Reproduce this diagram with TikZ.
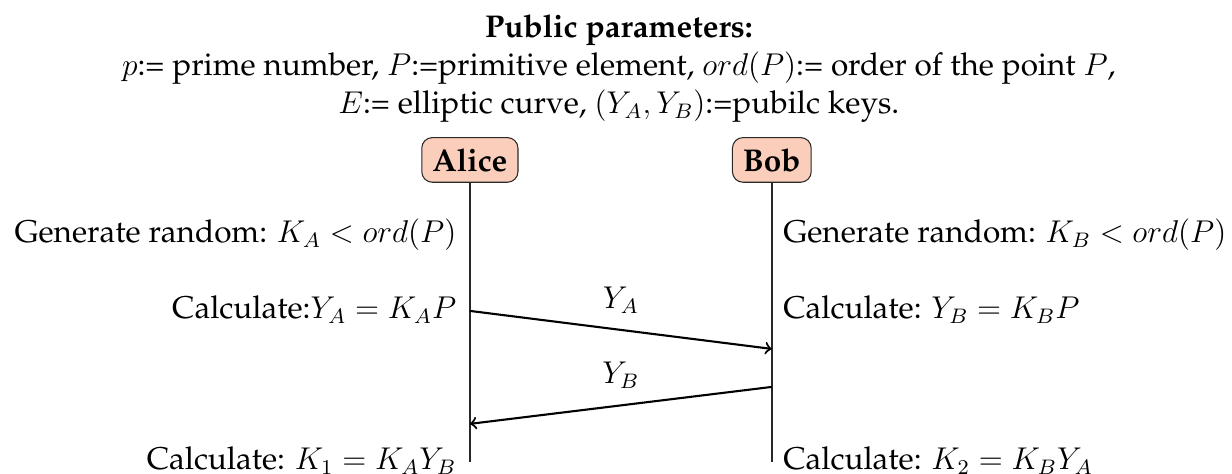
\documentclass[tikz,border=0pt,12pt]{standalone}
\usepackage[T1]{fontenc}
\renewcommand{\rmdefault}{ppl}
\usepackage{tikz}
\usetikzlibrary{positioning,calc}
\definecolor{actclr}{RGB}{251,206,188}
\definecolor{lineclr}{RGB}{40,40,40}
\tikzset{
    actor/.style={rectangle,draw=lineclr,fill=actclr,rounded corners=4pt,font=\bfseries,minimum height=17pt,inner sep=4pt},
    life/.style={draw=lineclr,line width=0.8pt},
    msg/.style={->,line width=0.8pt},
    lstep/.style={anchor=base east,inner sep=0pt},
    rstep/.style={anchor=base west,inner sep=0pt},
}

\begin{document}
\begin{tikzpicture}
\useasboundingbox (0,0) rectangle (16.50,-6.347);
% public parameters
\node[anchor=base] (T1) at (8.288,-0.509) {\bfseries Public parameters:};
\node[anchor=base] (T2) at (8.288,-1.018) {$p$:= prime number, $P$:=primitive element, $ord(P)$:= order of the point $P$,};
\node[anchor=base] (T3) at (8.288,-1.526) {$E$:= elliptic curve, $(Y_A,Y_B)$:=pubilc keys.};

% actors
\node[actor] (A) at (6.293,-2.142) {Alice};
\node[actor] (B) at (10.337,-2.142) {Bob};
\coordinate (Aend) at (A |- 0,-6.186);
\coordinate (Bend) at (B |- 0,-6.186);
\draw[life] (A) -- (Aend);
\draw[life] (B) -- (Bend);

% steps
\node[lstep] (gA) at (6.119,-3.254) {Generate random: $K_A < ord(P)$};
\node[lstep] (cA) at (6.119,-4.271) {Calculate:$Y_A = K_AP$};
\node[lstep] (kA) at (6.119,-6.293) {Calculate: $K_1 = K_AY_B$};
\node[rstep] (gB) at (10.484,-3.254) {Generate random: $K_B < ord(P)$};
\node[rstep] (cB) at (10.484,-4.271) {Calculate: $Y_B = K_BP$};
\node[rstep] (kB) at (10.484,-6.293) {Calculate: $K_2 = K_BY_A$};

% messages
\coordinate (A1) at (A |- 0,-4.164);
\coordinate (B1) at (B |- 0,-4.673);
\coordinate (B2) at (B |- 0,-5.182);
\coordinate (A2) at (A |- 0,-5.677);
\draw[msg] (A1) -- node[above=2pt] (lYA) {$Y_A$} (B1);
\draw[msg] (B2) -- node[above=2pt] (lYB) {$Y_B$} (A2);
\end{tikzpicture}
\end{document}
